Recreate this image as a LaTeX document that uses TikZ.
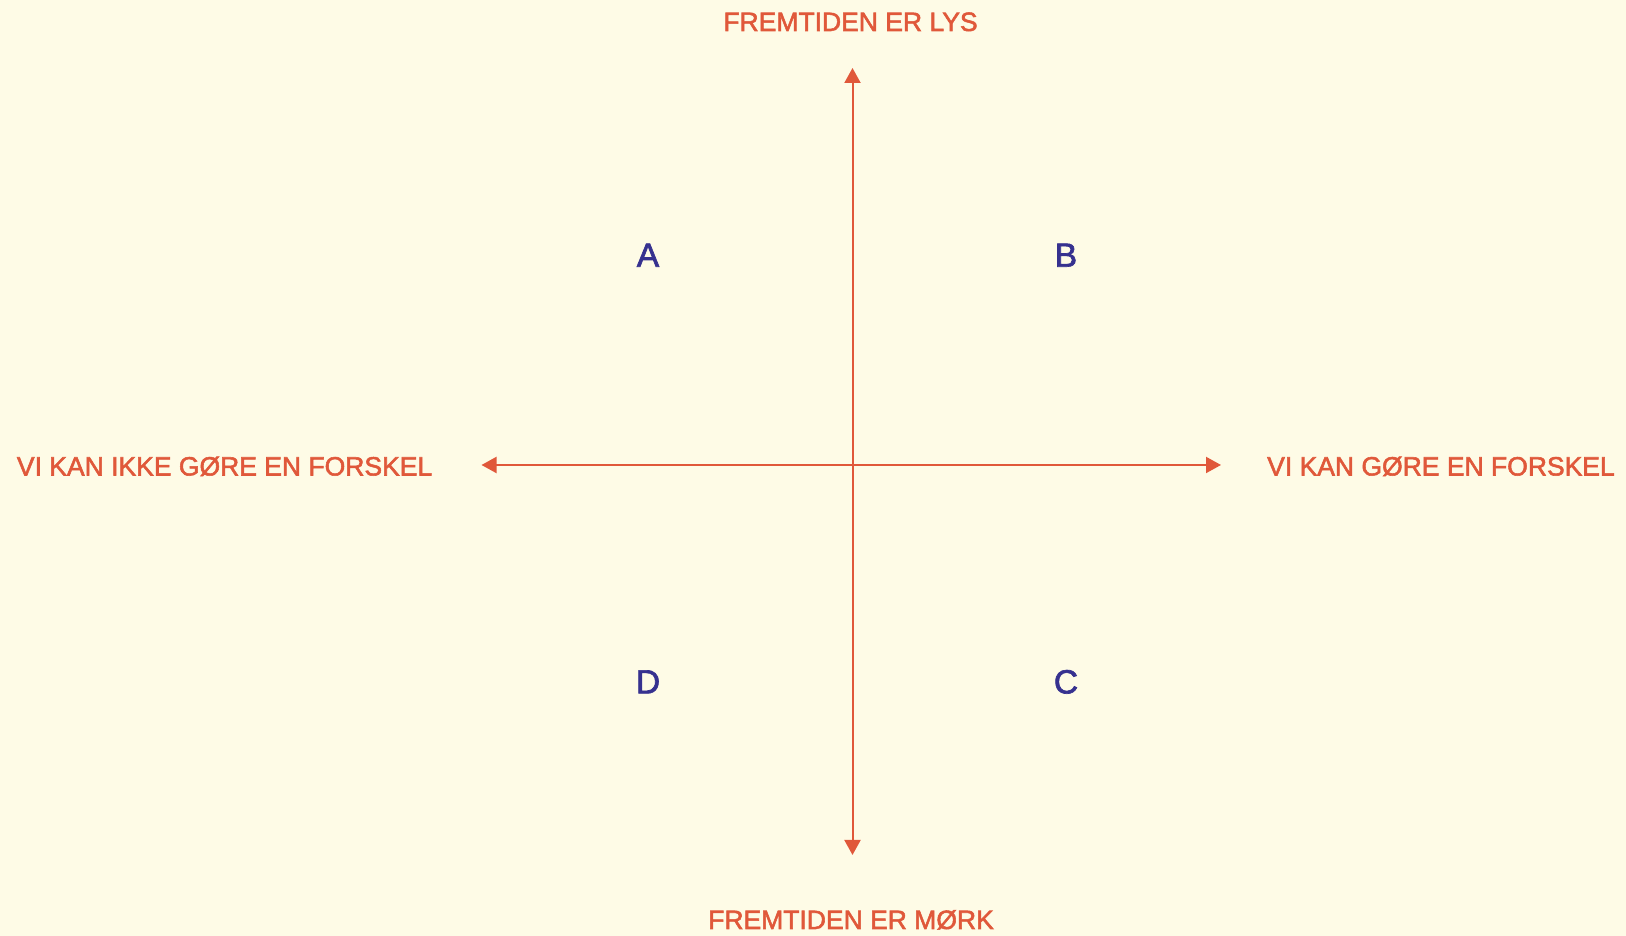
\documentclass[tikz,border=0pt]{standalone}
\usepackage{fontspec}
\setmainfont[FakeBold=2]{Liberation Sans}
\usetikzlibrary{arrows.meta}
\definecolor{bgc}{HTML}{FEFBE6}
\definecolor{axisc}{HTML}{E0583A}
\definecolor{quadc}{HTML}{36318F}
\begin{document}
\begin{tikzpicture}[x=1pt,y=1pt,
  axislabel/.style={inner sep=0pt,text=axisc,font=\fontsize{26.5}{30}\selectfont},
  quadlabel/.style={inner sep=0pt,text=quadc,font=\fontsize{33.5}{38}\selectfont,anchor=base},
  axisline/.style={draw=axisc,line width=2pt,{Triangle[length=15pt,width=16pt]}-{Triangle[length=15pt,width=16pt]}}]
\fill[bgc] (0,0) rectangle (1626,936);
\useasboundingbox (0,0) rectangle (1626,936);
\coordinate (top) at (852.5,868);
\coordinate (bottom) at (852.5,81);
\coordinate (left) at (481.5,471);
\coordinate (right) at (1221,471);
\draw[axisline] (bottom) -- (top);
\draw[axisline] (left) -- (right);
\node[axislabel,anchor=base] (ltop) at (850.5,905) {FREMTIDEN ER LYS};
\node[axislabel,anchor=base] (lbottom) at (851,7) {FREMTIDEN ER MØRK};
\node[axislabel,anchor=base west] (lleft) at (16.7,460.5) {VI KAN IKKE GØRE EN FORSKEL};
\node[axislabel,anchor=base west] (lright) at (1267,460.5) {VI KAN GØRE EN FORSKEL};
\node[quadlabel] (qa) at (648,669.3) {A};
\node[quadlabel] (qb) at (1066,669.3) {B};
\node[quadlabel] (qd) at (648,242.6) {D};
\node[quadlabel] (qc) at (1066,242.6) {C};
\end{tikzpicture}
\end{document}
